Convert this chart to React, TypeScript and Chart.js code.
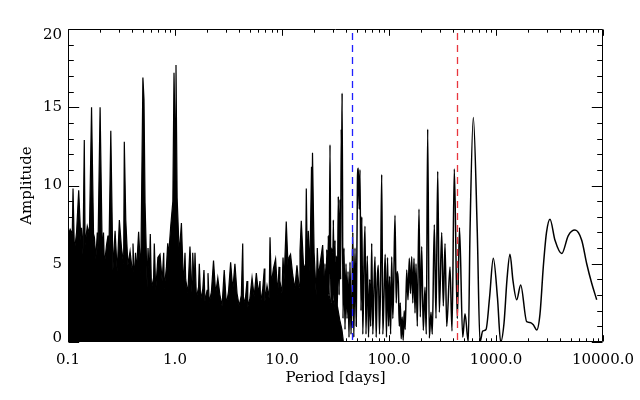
import React, { useEffect, useRef } from 'react';
import { Chart, registerables } from 'chart.js';

Chart.register(...registerables);

// Dense short-period part of the periodogram (period in days, amplitude)
const densePeriods = [
  0.1, 0.1047, 0.1096, 0.1114, 0.1148, 0.1202, 0.1259, 0.1318, 0.1337, 0.138,
  0.142, 0.1445, 0.1514, 0.1585, 0.166, 0.1738, 0.1769, 0.182, 0.1878, 0.1905,
  0.1995, 0.2089, 0.2147, 0.2188, 0.2291, 0.2365, 0.2399, 0.2512, 0.263, 0.2754,
  0.2884, 0.302, 0.3162, 0.3311, 0.3359, 0.3467, 0.3631, 0.3802, 0.3981, 0.405,
  0.4169, 0.4274, 0.4365, 0.4571, 0.4786, 0.5012, 0.5132, 0.5248, 0.5495, 0.5594,
  0.5754, 0.5877, 0.6026, 0.631, 0.6405, 0.6607, 0.6918, 0.7244, 0.7586, 0.7843,
  0.7943, 0.8318, 0.8548, 0.871, 0.912, 0.955, 0.9788, 1.0, 1.0217, 1.047,
  1.096, 1.148, 1.202, 1.24, 1.259, 1.318, 1.38, 1.445, 1.464, 1.514,
  1.538, 1.585, 1.66, 1.687, 1.738, 1.82, 1.866, 1.905, 1.995, 2.034,
  2.089, 2.188, 2.291, 2.399, 2.512, 2.63, 2.754, 2.884, 3.02, 3.162,
  3.311, 3.467, 3.631, 3.802, 3.981, 4.169, 4.293, 4.365, 4.571, 4.709,
  4.786, 5.012, 5.248, 5.495, 5.754, 6.026, 6.228, 6.31, 6.607, 6.834,
  6.918, 7.244, 7.586, 7.727, 7.943, 8.318, 8.71, 9.12, 9.376, 9.55,
  10.0, 10.22, 10.47, 10.96, 11.48, 11.63, 12.02, 12.59, 13.18, 13.8,
  14.45, 14.73, 15.14, 15.85, 16.6, 16.87, 17.38, 17.61, 18.2, 18.87,
  19.05, 19.28, 19.95, 20.89, 21.38, 21.88, 22.91, 23.99, 25.12, 26.3,
  27.54, 28.84, 30.2, 31.62, 33.11, 34.67, 36.31, 37.5,
];
const denseAmps = [
  6.8, 7.2, 6.9, 9.8, 5.8, 7.0, 9.7, 6.5, 7.3, 5.6,
  12.9, 6.2, 7.4, 6.9, 15.0, 6.3, 6.6, 5.3, 7.0, 5.9,
  15.0, 5.7, 7.0, 4.9, 6.2, 6.8, 4.7, 13.5, 4.6, 7.1,
  4.5, 7.8, 6.0, 5.0, 12.8, 7.8, 4.9, 5.8, 4.6, 6.3,
  3.8, 5.7, 4.5, 7.05, 4.4, 16.9, 15.5, 8.9, 3.5, 6.0,
  4.3, 6.9, 3.4, 4.1, 6.3, 3.3, 5.4, 5.6, 3.9, 5.7,
  3.4, 4.8, 6.3, 5.5, 7.4, 9.0, 17.2, 13.5, 17.7, 9.2,
  5.6, 7.6, 3.5, 5.7, 4.0, 3.1, 6.1, 3.0, 5.7, 3.6,
  5.7, 2.8, 3.5, 5.0, 2.7, 3.4, 4.6, 2.6, 3.3, 4.4,
  2.5, 3.2, 5.2, 3.1, 4.1, 3.0, 2.3, 4.6, 2.4, 3.2,
  5.1, 3.3, 5.0, 3.1, 2.3, 3.0, 6.3, 2.4, 2.9, 3.9,
  2.2, 2.8, 4.1, 2.9, 4.4, 3.1, 3.9, 2.5, 3.4, 4.7,
  2.6, 3.6, 2.8, 6.7, 3.7, 4.7, 5.3, 3.0, 4.8, 3.9,
  3.1, 5.4, 4.0, 7.7, 4.2, 5.4, 5.6, 4.3, 3.4, 4.9,
  3.5, 5.8, 7.75, 5.0, 4.6, 9.8, 3.3, 7.1, 4.5, 11.2,
  9.0, 12.1, 5.7, 3.0, 6.0, 4.2, 5.2, 6.2, 3.0, 2.6,
  3.0, 2.4, 2.6, 2.0, 2.2, 1.4, 0.8, 0.0,
];

// Sparser long-period part
const tailPeriods = [
  24.7, 25.2, 25.8, 26.2, 26.7, 27.1, 27.6, 28.1, 28.6, 29.1,
  29.6, 30.2, 30.7, 31.3, 31.8, 32.4, 32.9, 33.6, 34.2, 34.8,
  35.3, 35.8, 36.1, 36.45, 37.16, 37.97, 38.8, 39.64, 40.51, 41.39,
  42.29, 43.21, 44.15, 45.11, 45.89, 46.88, 48.11, 49.38, 50.76, 51.65,
  52.66, 53.58, 54.74, 55.69, 56.9, 58.39, 59.66, 60.95, 62.68, 64.33,
  66.01, 67.45, 68.92, 70.57, 72.41, 73.99, 75.93, 77.75, 79.43, 81.51,
  83.47, 85.47, 87.53, 89.82, 92.17, 94.76, 96.83, 99.15, 101.3, 103.5,
  106.0, 108.5, 110.9, 113.8, 116.8, 119.3, 122.2, 124.8, 127.5, 130.0,
  132.9, 135.7, 138.7, 141.7, 146.4, 150.5, 154.8, 158.8, 163.0, 166.9,
  171.3, 175.0, 178.8, 183.9, 190.7, 196.1, 202.1, 209.2, 216.9, 223.1,
  229.9, 238.0, 246.9, 253.9, 265.1, 275.0, 285.3, 295.3, 310.9, 321.8,
  333.8, 346.3, 371.6, 388.0, 407.7, 434.8, 456.0, 488.5, 513.2, 551.0,
  571.5, 613.7, 668.6, 708.8, 751.2, 806.4, 869.6, 943.6, 1033, 1106,
  1188, 1267, 1351, 1442, 1561, 1701, 1936, 2079, 2232, 2402,
  2578, 2767, 2965, 3197, 3560, 4111, 4740, 5473, 6324, 7043,
  7842, 8733,
];
const tailAmps = [
  1.0, 5.0, 1.5, 5.9, 2.0, 6.8, 3.0, 12.6, 2.5, 6.0,
  1.8, 7.8, 2.2, 6.5, 1.0, 5.5, 2.0, 9.3, 3.0, 9.1,
  4.0, 13.6, 11.0, 15.9, 1.5, 6.0, 0.8, 5.0, 1.5, 4.5,
  0.3, 5.1, 0.5, 3.0, 7.0, 0.3, 6.0, 1.0, 10.5, 11.1,
  8.5, 11.0, 2.0, 8.0, 0.5, 5.0, 7.4, 0.5, 5.5, 0.3,
  4.0, 1.0, 6.3, 0.5, 3.5, 5.45, 0.3, 4.0, 4.9, 0.5,
  4.0, 10.7, 0.5, 3.0, 5.6, 0.3, 5.4, 1.0, 4.2, 0.5,
  5.45, 1.5, 4.0, 8.1, 2.5, 4.5, 3.8, 1.0, 2.5, 0.2,
  1.6, 0.1, 2.0, 0.8, 4.6, 2.7, 5.35, 3.1, 5.45, 2.5,
  5.35, 1.85, 5.0, 1.0, 8.5, 1.6, 6.1, 0.75, 3.5, 0.5,
  13.6, 0.25, 1.9, 0.5, 7.5, 1.5, 10.9, 1.9, 7.0, 2.3,
  6.3, 1.0, 4.8, 0.7, 11.05, 1.5, 7.3, 0.3, 1.8, 0.0,
  7.0, 14.35, 7.0, 0.0, 0.7, 0.8, 2.8, 5.35, 2.8, 0.0,
  1.2, 4.0, 5.6, 3.9, 2.7, 3.65, 1.3, 1.25, 1.1, 0.77,
  1.8, 4.8, 7.0, 7.85, 6.5, 5.65, 6.8, 7.15, 6.5, 5.0,
  3.75, 2.7,
];

const xTickValues = [0.1, 1, 10, 100, 1000, 10000];
const xTickLabels = ['0.1', '1.0', '10.0', '100.0', '1000.0', '10000.0'];
const yTickValues = [0, 5, 10, 15, 20];
const yTickLabels = ['0', '5', '10', '15', '20'];
const markerPeriods = [45.4, 434];
const markerColors = ['#1f1fff', '#e8363e'];
const xTitle = 'Period [days]';
const yTitle = 'Amplitude';
const FONT = "15px 'DejaVu Serif'";

const framePlugin = {
  id: 'idlFrame',
  afterDatasetsDraw(chart: any) {
    const { ctx, chartArea: a, scales } = chart;
    ctx.save();
    ctx.lineWidth = 1.3;
    ctx.setLineDash([7, 5]);
    markerPeriods.forEach((p, i) => {
      const x = Math.round(scales.x.getPixelForValue(p)) + 0.5;
      ctx.strokeStyle = markerColors[i];
      ctx.beginPath();
      ctx.moveTo(x, a.top + 4);
      ctx.lineTo(x, a.bottom);
      ctx.stroke();
    });
    ctx.restore();
  },
  afterDraw(chart: any) {
    const { ctx, chartArea: a, scales } = chart;
    const xs = scales.x;
    const ys = scales.y;
    ctx.save();
    ctx.strokeStyle = '#000';
    ctx.lineWidth = 1;
    ctx.setLineDash([]);
    const L = Math.round(a.left) + 0.5;
    const R = Math.round(a.right) - 0.5;
    const T = Math.round(a.top) + 0.5;
    const B = Math.round(a.bottom) - 0.5;
    ctx.beginPath();
    ctx.rect(L, T, R - L, B - T);
    ctx.stroke();

    const yMaj = 10.7, yMin = 5.3;
    ctx.beginPath();
    for (let v = 0; v <= 20; v++) {
      const y = Math.round(ys.getPixelForValue(v)) + 0.5;
      const len = v % 5 === 0 ? yMaj : yMin;
      ctx.moveTo(L, y); ctx.lineTo(L + len, y);
      ctx.moveTo(R, y); ctx.lineTo(R - len, y);
    }
    const xMaj = 6.3, xMin = 3.2;
    for (let d = 0; d < xTickValues.length; d++) {
      const base = xTickValues[d];
      for (let m = 1; m <= 9; m++) {
        const v = base * m;
        if (v > xTickValues[xTickValues.length - 1] + 1e-9) break;
        const x = Math.round(xs.getPixelForValue(v)) + 0.5;
        const len = m === 1 ? xMaj : xMin;
        ctx.moveTo(x, B); ctx.lineTo(x, B - len);
        ctx.moveTo(x, T); ctx.lineTo(x, T + len);
      }
    }
    ctx.stroke();

    ctx.fillStyle = '#000';
    ctx.font = FONT;
    ctx.textAlign = 'center';
    ctx.textBaseline = 'middle';
    xTickValues.forEach((v, i) => {
      ctx.fillText(xTickLabels[i], xs.getPixelForValue(v), a.bottom + 18);
    });
    ctx.textAlign = 'right';
    yTickValues.forEach((v, i) => {
      let y = ys.getPixelForValue(v);
      y = Math.min(Math.max(y, a.top + 6), a.bottom - 4);
      ctx.fillText(yTickLabels[i], a.left - 6, y);
    });
    ctx.textAlign = 'center';
    ctx.fillText(xTitle, (a.left + a.right) / 2, a.bottom + 36);
    ctx.save();
    ctx.translate(27, (a.top + a.bottom) / 2);
    ctx.rotate(-Math.PI / 2);
    ctx.fillText(yTitle, 0, 0);
    ctx.restore();
    ctx.restore();
  },
};

export default function App() {
  const ref = useRef<HTMLCanvasElement | null>(null);
  useEffect(() => {
    document.body.style.margin = '0';
    const canvas = ref.current;
    if (!canvas) return;
    const dense = densePeriods.map((p, i) => ({ x: p, y: denseAmps[i] }));
    const tail = tailPeriods.map((p, i) => ({ x: p, y: tailAmps[i] }));
    const chart = new Chart(canvas, {
      type: 'line',
      data: {
        datasets: [
          {
            data: tail,
            borderColor: '#000',
            borderWidth: 1.5,
            pointRadius: 0,
            fill: false,
            cubicInterpolationMode: 'monotone',
          },
          {
            data: dense,
            borderColor: '#000',
            backgroundColor: '#000',
            borderWidth: 1.2,
            pointRadius: 0,
            fill: 'origin',
            tension: 0,
          },
        ],
      },
      options: {
        animation: false,
        responsive: false,
        devicePixelRatio: 1,
        events: [],
        layout: { padding: { left: 0, right: 37, top: 29, bottom: 0 } },
        plugins: { legend: { display: false }, tooltip: { enabled: false } },
        scales: {
          x: {
            type: 'logarithmic',
            min: 0.1,
            max: 10000,
            grid: { display: false },
            border: { display: false },
            ticks: { display: false },
            afterFit: (s: any) => { s.height = 58; },
          },
          y: {
            type: 'linear',
            min: 0,
            max: 20,
            grid: { display: false },
            border: { display: false },
            ticks: { display: false },
            afterFit: (s: any) => { s.width = 68; },
          },
        },
      } as any,
      plugins: [framePlugin],
    });
    return () => chart.destroy();
  }, []);
  return (
    <div style={{ position: 'absolute', left: 0, top: 0, width: 640, height: 400, background: '#fff' }}>
      <canvas ref={ref} width={640} height={400} style={{ display: 'block' }} />
    </div>
  );
}
